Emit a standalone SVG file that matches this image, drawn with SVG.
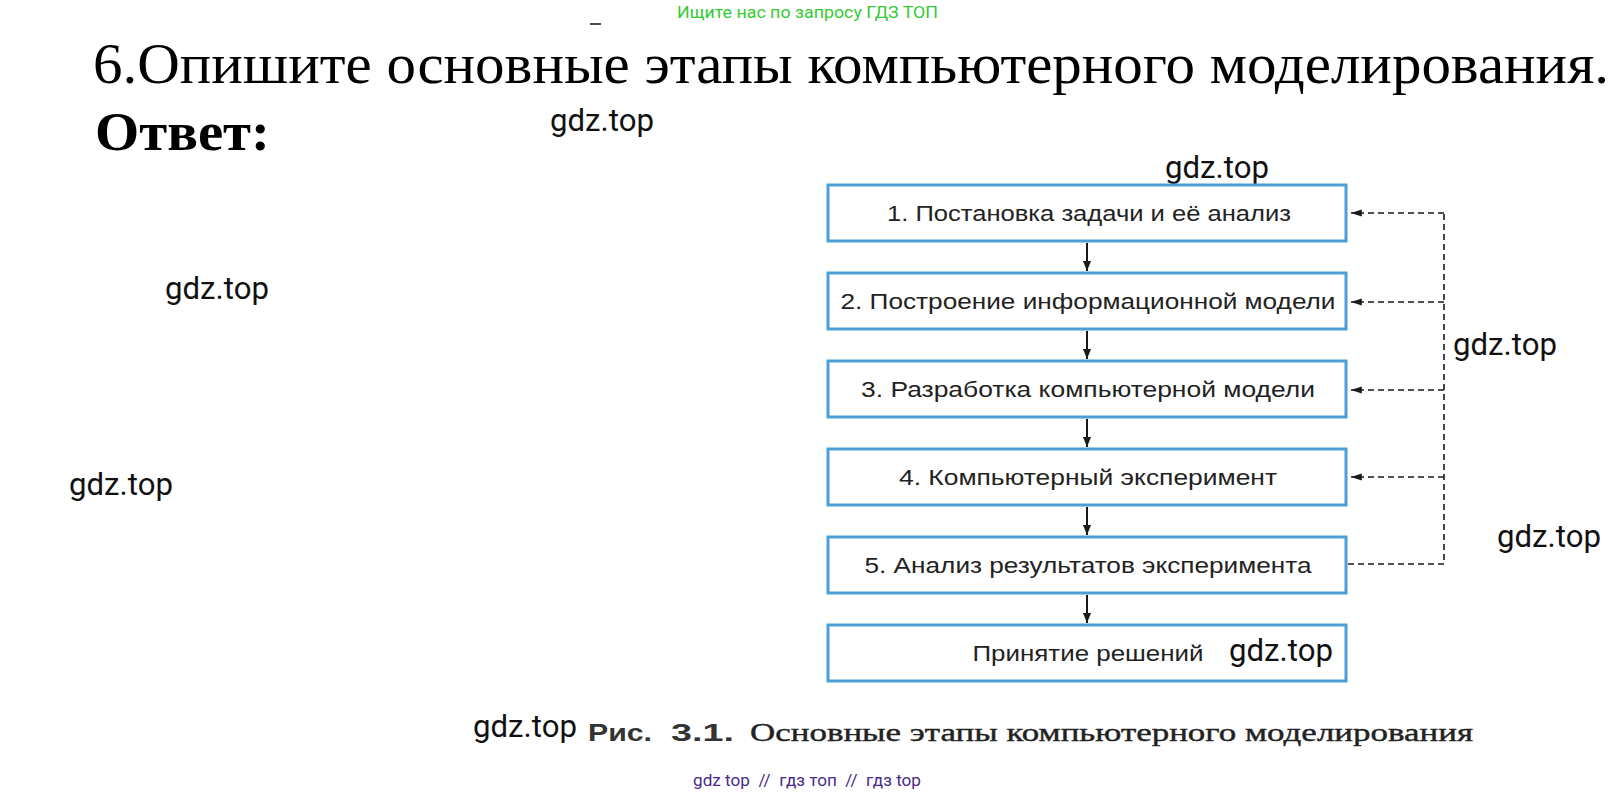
<svg xmlns="http://www.w3.org/2000/svg" width="1617" height="796" viewBox="0 0 1617 796">
<style>
.box{fill:#ffffff;stroke:#4b9fd6;stroke-width:3}
.lbl{font-family:"Liberation Sans",Arial,sans-serif;font-size:22px;fill:#222;text-anchor:middle}
.wm{font-family:Roboto,"Liberation Sans",sans-serif;font-size:31px;fill:#111}
.solid{stroke:#1a1a1a;stroke-width:2;fill:none}
.dash{stroke:#1a1a1a;stroke-width:1.6;fill:none;stroke-dasharray:6 4}
</style>
<defs>
<marker id="ah" viewBox="0 0 10 10" refX="10" refY="5" markerWidth="10" markerHeight="10" markerUnits="userSpaceOnUse" orient="auto">
<path d="M0,1 L10,5 L0,9 z" fill="#1a1a1a"/>
</marker>
<marker id="ahd" viewBox="0 0 12 10" refX="12" refY="5" markerWidth="13" markerHeight="9" markerUnits="userSpaceOnUse" orient="auto">
<path d="M0,1 L12,5 L0,9 z" fill="#1a1a1a"/>
</marker>
</defs>
<rect width="1617" height="796" fill="#ffffff"/>

<text x="677" y="18" font-family="Roboto,'Liberation Sans',sans-serif" font-size="16" fill="#33cc33" textLength="261" lengthAdjust="spacingAndGlyphs">Ищите нас по запросу ГДЗ ТОП</text>
<line x1="590" y1="24" x2="601" y2="24" stroke="#111" stroke-width="1.5"/>

<text x="93" y="83" font-family="'Liberation Serif','Times New Roman',serif" font-size="56" fill="#000" textLength="1516" lengthAdjust="spacingAndGlyphs">6.Опишите основные этапы компьютерного моделирования.</text>
<text x="95" y="150" font-family="'Liberation Serif','Times New Roman',serif" font-size="55" font-weight="bold" fill="#000" textLength="175" lengthAdjust="spacingAndGlyphs">Ответ:</text>

<g id="watermarks">
<text class="wm" x="550" y="131" textLength="104" lengthAdjust="spacingAndGlyphs">gdz.top</text>
<text class="wm" x="1165" y="178" textLength="104" lengthAdjust="spacingAndGlyphs">gdz.top</text>
<text class="wm" x="165" y="299" textLength="104" lengthAdjust="spacingAndGlyphs">gdz.top</text>
<text class="wm" x="1453" y="355" textLength="104" lengthAdjust="spacingAndGlyphs">gdz.top</text>
<text class="wm" x="69" y="495" textLength="104" lengthAdjust="spacingAndGlyphs">gdz.top</text>
<text class="wm" x="1497" y="547" textLength="104" lengthAdjust="spacingAndGlyphs">gdz.top</text>
</g>

<g id="connectors">
<line class="solid" x1="1087" y1="243" x2="1087" y2="271" marker-end="url(#ah)"/>
<line class="solid" x1="1087" y1="331" x2="1087" y2="359" marker-end="url(#ah)"/>
<line class="solid" x1="1087" y1="419" x2="1087" y2="447" marker-end="url(#ah)"/>
<line class="solid" x1="1087" y1="507" x2="1087" y2="535" marker-end="url(#ah)"/>
<line class="solid" x1="1087" y1="595" x2="1087" y2="623" marker-end="url(#ah)"/>
<path class="dash" d="M1348,564 H1444 V213"/>
<line class="dash" x1="1444" y1="213" x2="1351" y2="213" marker-end="url(#ahd)"/>
<line class="dash" x1="1444" y1="302" x2="1351" y2="302" marker-end="url(#ahd)"/>
<line class="dash" x1="1444" y1="390" x2="1351" y2="390" marker-end="url(#ahd)"/>
<line class="dash" x1="1444" y1="477" x2="1351" y2="477" marker-end="url(#ahd)"/>
</g>

<g id="n1"><rect class="box" x="828" y="185" width="518" height="56"/><text class="lbl" x="1089" y="221" textLength="404" lengthAdjust="spacingAndGlyphs">1. Постановка задачи и её анализ</text></g>
<g id="n2"><rect class="box" x="828" y="273" width="518" height="56"/><text class="lbl" x="1088" y="309" textLength="495" lengthAdjust="spacingAndGlyphs">2. Построение информационной модели</text></g>
<g id="n3"><rect class="box" x="828" y="361" width="518" height="56"/><text class="lbl" x="1088" y="397" textLength="454" lengthAdjust="spacingAndGlyphs">3. Разработка компьютерной модели</text></g>
<g id="n4"><rect class="box" x="828" y="449" width="518" height="56"/><text class="lbl" x="1088" y="485" textLength="378" lengthAdjust="spacingAndGlyphs">4. Компьютерный эксперимент</text></g>
<g id="n5"><rect class="box" x="828" y="537" width="518" height="56"/><text class="lbl" x="1088" y="573" textLength="447" lengthAdjust="spacingAndGlyphs">5. Анализ результатов эксперимента</text></g>
<g id="n6"><rect class="box" x="828" y="625" width="518" height="56"/><text class="lbl" x="1088" y="661" textLength="231" lengthAdjust="spacingAndGlyphs">Принятие решений</text><text class="wm" x="1229" y="661" textLength="104" lengthAdjust="spacingAndGlyphs">gdz.top</text></g>

<g id="caption">
<text class="wm" x="473" y="737" textLength="104" lengthAdjust="spacingAndGlyphs">gdz.top</text>
<text x="588" y="741" font-family="'Liberation Sans',Arial,sans-serif" font-size="23" font-weight="bold" fill="#333" textLength="64" lengthAdjust="spacingAndGlyphs">Рис.</text>
<text x="671" y="741" font-family="'Liberation Sans',Arial,sans-serif" font-size="23" font-weight="bold" fill="#333" textLength="63" lengthAdjust="spacingAndGlyphs">3.1.</text>
<text x="750" y="741" font-family="'Liberation Serif','Times New Roman',serif" font-size="26" fill="#222" stroke="#222" stroke-width="0.4" textLength="723" lengthAdjust="spacingAndGlyphs">Основные  этапы  компьютерного  моделирования</text>
</g>

<text x="693" y="786" font-family="Roboto,'Liberation Sans',sans-serif" font-size="16" fill="#4b2a8a" textLength="228" lengthAdjust="spacingAndGlyphs" xml:space="preserve">gdz top  //  гдз топ  //  гдз top</text>
</svg>
